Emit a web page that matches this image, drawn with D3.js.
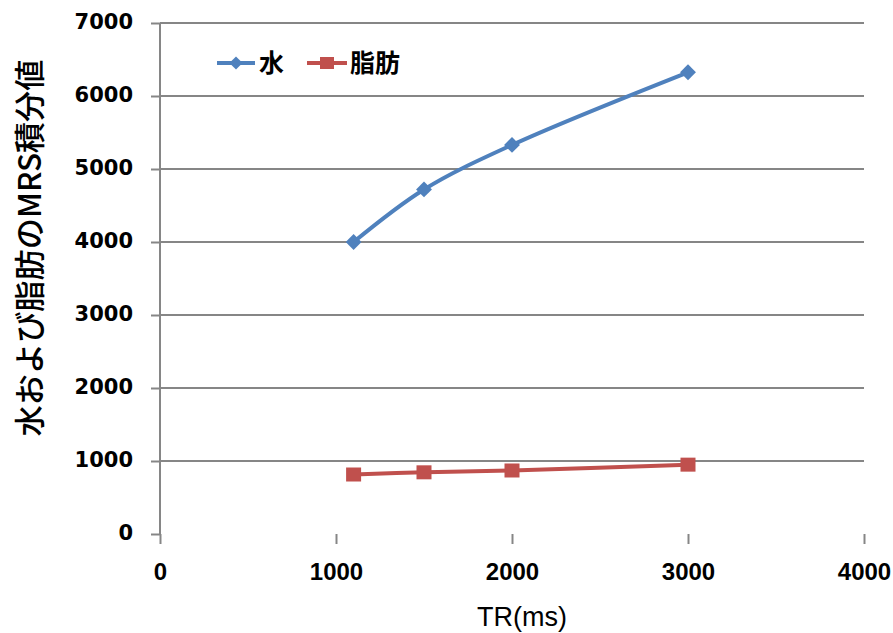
<!DOCTYPE html>
<html>
<head>
<meta charset="utf-8">
<script src="https://cdn.jsdelivr.net/npm/d3@7"></script>
<style>
  body { margin: 0; background: #fff; }
  svg { display: block; }
</style>
</head>
<body>
<div class="chart"></div>
<script>
// TR (ms) and MRS integral values
const trValues = [1100, 1500, 2000, 3000]
const waterValues = [4000, 4720, 5330, 6325]
const fatValues = [815, 845, 870, 950]
const seriesNames = ['水', '脂肪']
const xTicks = [0, 1000, 2000, 3000, 4000]
const yTicks = [0, 1000, 2000, 3000, 4000, 5000, 6000, 7000]

const W = 893
const H = 633
const margin = {top: 23, right: 29, bottom: 99, left: 160}
const width = W - margin.left - margin.right
const height = H - margin.top - margin.bottom

const blue = '#4f81bd'
const red = '#c0504d'
const grid = '#868686'

const x = d3.scaleLinear().domain([0, 4000]).range([0, width])
const y = d3.scaleLinear().domain([0, 7000]).range([height, 0])

const svg = d3.select('.chart')
  .append('svg')
  .attr('width', W)
  .attr('height', H)

const g = svg.append('g')
  .attr('transform', 'translate(' + margin.left + ',' + margin.top + ')')

// horizontal gridlines (none at 0)
g.append('g')
  .selectAll('line')
  .data(yTicks.filter(d => d > 0))
  .enter()
  .append('line')
  .attr('x1', 0)
  .attr('x2', width)
  .attr('y1', d => y(d))
  .attr('y2', d => y(d))
  .style('stroke', grid)
  .style('stroke-width', 2)

// y axis
const yAxis = g.append('g')
  .call(d3.axisLeft(y).tickValues(yTicks).tickFormat(d3.format('d')).tickSize(9).tickPadding(18))
yAxis.select('.domain').attr('d', 'M0,' + y(7000) + 'V' + y(0))
yAxis.selectAll('.domain, line').style('stroke', grid).style('stroke-width', 2)
yAxis.selectAll('text')
  .style('font-family', '"DejaVu Sans", sans-serif')
  .style('font-weight', 'bold')
  .style('font-size', '21px')
  .style('fill', '#000')
  .attr('dy', '0.25em')

// x axis: ticks only, no baseline
const xAxis = g.append('g')
  .attr('transform', 'translate(0,' + height + ')')
  .call(d3.axisBottom(x).tickValues(xTicks).tickFormat(d3.format('d')).tickSize(10).tickPadding(19))
xAxis.select('.domain').remove()
xAxis.selectAll('line').style('stroke', grid).style('stroke-width', 2)
xAxis.selectAll('text')
  .style('font-family', '"Liberation Sans", sans-serif')
  .style('font-weight', 'bold')
  .style('font-size', '24px')
  .style('fill', '#000')

// axis titles
svg.append('text')
  .attr('x', 522)
  .attr('y', 626)
  .style('text-anchor', 'middle')
  .style('font-family', '"Liberation Sans", sans-serif')
  .style('font-size', '27px')
  .text('TR(ms)')

svg.append('text')
  .attr('transform', 'translate(30,248) rotate(-90)')
  .attr('dy', '0.35em')
  .attr('textLength', 377)
  .attr('lengthAdjust', 'spacingAndGlyphs')
  .style('text-anchor', 'middle')
  .style('font-family', '"Noto Sans CJK JP", sans-serif')
  .style('font-weight', 500)
  .style('font-size', '31px')
  .text('水および脂肪のMRS積分値')

const water = trValues.map((t, i) => ({tr: t, v: waterValues[i]}))
const fat = trValues.map((t, i) => ({tr: t, v: fatValues[i]}))

const line = d3.line()
  .curve(d3.curveCatmullRom.alpha(0.5))
  .x(d => x(d.tr))
  .y(d => y(d.v))

g.append('path')
  .datum(water)
  .attr('d', line)
  .style('fill', 'none')
  .style('stroke', blue)
  .style('stroke-width', 4)

g.append('path')
  .datum(fat)
  .attr('d', line)
  .style('fill', 'none')
  .style('stroke', red)
  .style('stroke-width', 4)

const diamond = d3.symbol().type(d3.symbolDiamond2).size(160)

g.selectAll('.wdot')
  .data(water)
  .enter()
  .append('path')
  .attr('class', 'wdot')
  .attr('d', diamond)
  .attr('transform', d => 'translate(' + x(d.tr) + ',' + y(d.v) + ')')
  .style('fill', blue)

g.selectAll('.fdot')
  .data(fat)
  .enter()
  .append('rect')
  .attr('class', 'fdot')
  .attr('x', d => x(d.tr) - 7.5)
  .attr('y', d => y(d.v) - 7)
  .attr('width', 15)
  .attr('height', 14)
  .style('fill', red)

// legend
const legend = svg.append('g').attr('transform', 'translate(217,63)')
legend.append('line')
  .attr('x1', 0).attr('x2', 38).attr('y1', 0).attr('y2', 0)
  .style('stroke', blue).style('stroke-width', 4)
legend.append('path')
  .attr('d', d3.symbol().type(d3.symbolDiamond2).size(110))
  .attr('transform', 'translate(19,0)')
  .style('fill', blue)
legend.append('line')
  .attr('x1', 90).attr('x2', 130).attr('y1', 0).attr('y2', 0)
  .style('stroke', red).style('stroke-width', 4)
legend.append('rect')
  .attr('x', 103).attr('y', -6).attr('width', 14).attr('height', 12)
  .style('fill', red)
legend.selectAll('.ltext')
  .data(seriesNames)
  .enter()
  .append('text')
  .attr('class', 'ltext')
  .attr('x', (d, i) => (i === 0 ? 42 : 133))
  .attr('y', 0)
  .attr('dy', '0.36em')
  .style('font-family', '"Noto Sans CJK JP", sans-serif')
  .style('font-weight', 'bold')
  .style('font-size', '25px')
  .text(d => d)
</script>
</body>
</html>
